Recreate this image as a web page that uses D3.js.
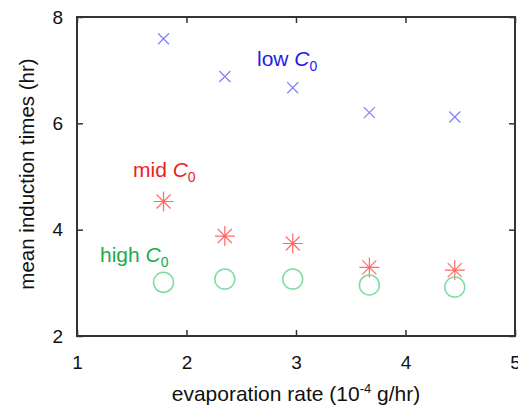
<!DOCTYPE html>
<html>
<head>
<meta charset="utf-8">
<script src="https://cdn.jsdelivr.net/npm/d3@7"></script>
<style>
  body { margin: 0; background: #fff; }
  svg { font-family: "Liberation Sans", Arial, sans-serif; }
</style>
</head>
<body>
<div id="chart"></div>
<script>
// evaporation rate (10^-4 g/hr)
var rates = [1.79, 2.35, 2.97, 3.67, 4.45];
// mean induction times (hr)
var lowC0 = [7.59, 6.88, 6.67, 6.20, 6.12];
var midC0 = [4.53, 3.88, 3.74, 3.29, 3.24];
var highC0 = [3.01, 3.07, 3.07, 2.96, 2.92];
var xTicks = [1, 2, 3, 4, 5];
var yTicks = [2, 4, 6, 8];

var full_width = 518, full_height = 406;
var margin = {top: 17, right: 3, bottom: 70, left: 77};
var width = full_width - margin.left - margin.right,
    height = full_height - margin.top - margin.bottom;

var svg = d3.select("#chart")
    .append("svg")
    .attr("width", full_width)
    .attr("height", full_height)
    .append("g")
    .attr("transform", "translate(" + margin.left + "," + margin.top + ")");

var x = d3.scaleLinear().domain([1, 5]).range([0, width]);
var y = d3.scaleLinear().domain([2, 8]).range([height, 0]);

// frame
svg.append("rect")
    .attr("x", 0).attr("y", 0)
    .attr("width", width).attr("height", height)
    .style("fill", "none")
    .style("stroke", "#333")
    .style("stroke-width", 2);

// axes, ticks pointing inward
function styleAxis(g) {
    g.select(".domain").remove();
    g.selectAll(".tick line").style("stroke", "#333").style("stroke-width", 1.5);
    g.selectAll("text").style("font-size", "19px").style("fill", "#111");
}
svg.append("g")
    .attr("transform", "translate(0," + height + ")")
    .call(d3.axisBottom(x).tickValues(xTicks).tickFormat(d3.format("d")).tickSizeInner(-6).tickPadding(20))
    .call(styleAxis);
svg.append("g")
    .call(d3.axisTop(x).tickValues(xTicks).tickSizeInner(-6).tickFormat(""))
    .call(styleAxis);
svg.append("g")
    .call(d3.axisLeft(y).tickValues(yTicks).tickFormat(d3.format("d")).tickSizeInner(-6).tickPadding(14))
    .call(styleAxis);
svg.append("g")
    .attr("transform", "translate(" + width + ",0)")
    .call(d3.axisRight(y).tickValues(yTicks).tickSizeInner(-6).tickFormat(""))
    .call(styleAxis);

// axis labels
svg.append("text")
    .attr("transform", "rotate(-90)")
    .attr("x", -(174 - margin.top))
    .attr("y", 34 - margin.left)
    .style("text-anchor", "middle")
    .style("font-size", "20.5px")
    .style("fill", "#111")
    .text("mean induction times (hr)");

var xl = svg.append("text")
    .attr("x", width / 2)
    .attr("y", 401 - margin.top)
    .style("text-anchor", "middle")
    .style("font-size", "21px")
    .style("fill", "#111");
xl.append("tspan").text("evaporation rate (10");
xl.append("tspan").attr("dy", -8).style("font-size", "13px").text("-4");
xl.append("tspan").attr("dy", 8).text(" g/hr)");

// low C0: x markers
var low = lowC0.map(function(v, i) { return {r: rates[i], t: v}; });
svg.selectAll(".low")
    .data(low)
    .enter().append("path")
    .attr("class", "low")
    .attr("transform", function(d) { return "translate(" + x(d.r) + "," + y(d.t) + ")"; })
    .attr("d", "M-5.5,-5.5L5.5,5.5M-5.5,5.5L5.5,-5.5")
    .style("stroke", "#8080ff")
    .style("stroke-width", 1.2)
    .style("fill", "none");

// mid C0: star markers
var mid = midC0.map(function(v, i) { return {r: rates[i], t: v}; });
svg.selectAll(".mid")
    .data(mid)
    .enter().append("path")
    .attr("class", "mid")
    .attr("transform", function(d) { return "translate(" + x(d.r) + "," + y(d.t) + ")"; })
    .attr("d", "M-10,0L10,0M0,-10L0,10M-7,-7L7,7M-7,7L7,-7")
    .style("stroke", "#ff6b6b")
    .style("stroke-width", 1.2)
    .style("fill", "none");

// high C0: open circles
var high = highC0.map(function(v, i) { return {r: rates[i], t: v}; });
svg.selectAll(".high")
    .data(high)
    .enter().append("circle")
    .attr("class", "high")
    .attr("cx", function(d) { return x(d.r); })
    .attr("cy", function(d) { return y(d.t); })
    .attr("r", 10)
    .style("stroke", "#7fdca4")
    .style("stroke-width", 1.5)
    .style("fill", "none");

// series labels
function seriesLabel(name, px, py, color) {
    var t = svg.append("text")
        .attr("x", px - margin.left)
        .attr("y", py - margin.top)
        .style("font-size", "21px")
        .style("fill", color);
    t.append("tspan").text(name + " ");
    t.append("tspan").style("font-style", "italic").text("C");
    t.append("tspan").attr("dy", 5).style("font-size", "14px").text("0");
}
seriesLabel("low", 257, 66, "#1c1cf0");
seriesLabel("mid", 133, 177, "#f01c1c");
seriesLabel("high", 100, 262, "#1daa4e");
</script>
</body>
</html>
